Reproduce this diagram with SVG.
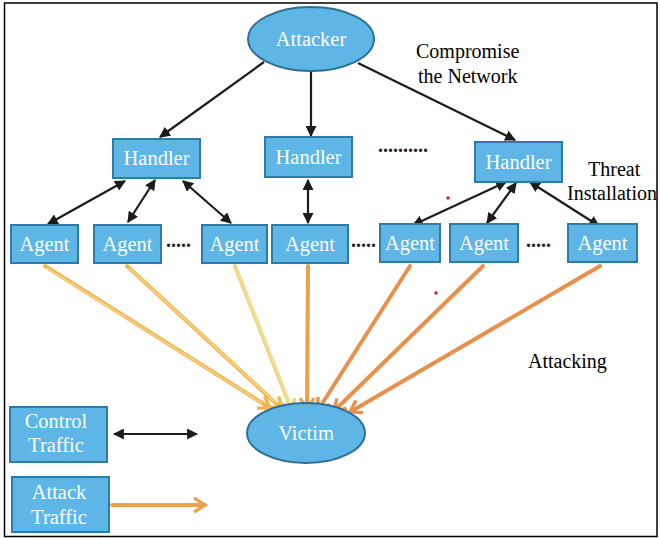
<svg xmlns="http://www.w3.org/2000/svg" width="660" height="539" viewBox="0 0 660 539">
<style>
.box{fill:#5DB6E6;stroke:#2F7BA6;stroke-width:2}
.ell{fill:#5DB6E6;stroke:#2F6F96;stroke-width:2}
.nt{font-family:"Liberation Serif","Times New Roman","DejaVu Serif",serif;font-size:20.5px;fill:#fff;text-anchor:middle}
.lab{font-family:"Liberation Serif","Times New Roman","DejaVu Serif",serif;font-size:20px;fill:#000}
.dots{font-family:"Liberation Serif","Times New Roman","DejaVu Serif",serif;font-size:20px;font-weight:bold;fill:#222}
.ctl{stroke:#1c1c1c;stroke-width:2.2;fill:none}
.atk{stroke-width:4;fill:none;stroke-linecap:round}
.hl{stroke-width:1.3;fill:none;stroke:#FBE3A8;opacity:0.8}
</style>
<defs>
<marker id="ah" viewBox="0 0 10 10" refX="9" refY="5" markerWidth="5" markerHeight="5" orient="auto-start-reverse" markerUnits="strokeWidth">
<path d="M0,0 L10,5 L0,10 z" fill="#1c1c1c"/>
</marker>
<marker id="oy" viewBox="0 0 10 10" refX="8" refY="5" markerWidth="4.2" markerHeight="4.2" orient="auto" markerUnits="strokeWidth">
<path d="M1.5,0.8 L8,5 L1.5,9.2" fill="none" stroke="#F1B550" stroke-width="2"/>
</marker>
<marker id="op" viewBox="0 0 10 10" refX="8" refY="5" markerWidth="4.2" markerHeight="4.2" orient="auto" markerUnits="strokeWidth">
<path d="M1.5,0.8 L8,5 L1.5,9.2" fill="none" stroke="#EBD47E" stroke-width="2"/>
</marker>
<marker id="oo" viewBox="0 0 10 10" refX="8" refY="5" markerWidth="4.2" markerHeight="4.2" orient="auto" markerUnits="strokeWidth">
<path d="M1.5,0.8 L8,5 L1.5,9.2" fill="none" stroke="#EBA04C" stroke-width="2"/>
</marker>
<marker id="or" viewBox="0 0 10 10" refX="8" refY="5" markerWidth="4.2" markerHeight="4.2" orient="auto" markerUnits="strokeWidth">
<path d="M1.5,0.8 L8,5 L1.5,9.2" fill="none" stroke="#E8904C" stroke-width="2"/>
</marker>
</defs>
<rect x="4.5" y="3" width="652.5" height="533.5" fill="#fff" stroke="#000" stroke-width="1.5"/>

<g id="connectors">
<line class="ctl" x1="264" y1="62" x2="160" y2="137" marker-end="url(#ah)"/>
<line class="ctl" x1="311" y1="72" x2="311" y2="136" marker-end="url(#ah)"/>
<line class="ctl" x1="358" y1="63" x2="515" y2="140" marker-end="url(#ah)"/>
<line class="ctl" x1="125" y1="181" x2="48" y2="224" marker-start="url(#ah)" marker-end="url(#ah)"/>
<line class="ctl" x1="155" y1="180" x2="128" y2="222" marker-start="url(#ah)" marker-end="url(#ah)"/>
<line class="ctl" x1="183" y1="181" x2="231" y2="223" marker-start="url(#ah)" marker-end="url(#ah)"/>
<line class="ctl" x1="308" y1="180" x2="308" y2="223" marker-start="url(#ah)" marker-end="url(#ah)"/>
<line class="ctl" x1="506" y1="182" x2="413" y2="225" marker-start="url(#ah)" marker-end="url(#ah)"/>
<line class="ctl" x1="516" y1="183" x2="487" y2="223" marker-start="url(#ah)" marker-end="url(#ah)"/>
<line class="ctl" x1="530" y1="182" x2="599" y2="226" marker-start="url(#ah)" marker-end="url(#ah)"/>

<line class="atk" x1="45" y1="266" x2="270" y2="408" stroke="#F1B550" marker-end="url(#oy)"/>
<line class="atk" x1="127" y1="266" x2="282" y2="409" stroke="#F1B550" marker-end="url(#oy)"/>
<line class="atk" x1="235" y1="266" x2="292" y2="411" stroke="#EBD47E" marker-end="url(#op)"/>
<line class="atk" x1="308" y1="266" x2="307" y2="409" stroke="#EBA04C" marker-end="url(#oo)"/>
<line class="atk" x1="410" y1="266" x2="318" y2="410" stroke="#E8904C" marker-end="url(#or)"/>
<line class="atk" x1="483" y1="266" x2="334" y2="411" stroke="#E8904C" marker-end="url(#or)"/>
<line class="atk" x1="600" y1="266" x2="350" y2="412" stroke="#E8904C" marker-end="url(#or)"/>
<line class="hl" x1="47" y1="268" x2="262" y2="403"/>
<line class="hl" x1="129" y1="268" x2="276" y2="403"/>
<line class="hl" x1="236" y1="268" x2="290" y2="404"/>

<line class="ctl" x1="114" y1="434" x2="197" y2="434" stroke-width="2.5" marker-start="url(#ah)" marker-end="url(#ah)"/>
<line class="atk" x1="112" y1="505" x2="205" y2="505" stroke="#EBA04C" marker-end="url(#oo)"/>
</g>

<g id="attacker">
<ellipse class="ell" cx="311" cy="39" rx="63" ry="32"/>
<text class="nt" x="311" y="46">Attacker</text>
</g>
<g id="handler1">
<rect class="box" x="113" y="139" width="87" height="39"/>
<text class="nt" x="156.5" y="165">Handler</text>
</g>
<g id="handler2">
<rect class="box" x="265" y="137" width="87" height="40"/>
<text class="nt" x="308.5" y="164">Handler</text>
</g>
<g id="handler3">
<rect class="box" x="475" y="142" width="87" height="40"/>
<text class="nt" x="518.5" y="169">Handler</text>
</g>
<text class="dots" x="378" y="152">..........</text>

<g id="agent1">
<rect class="box" x="11" y="225" width="67" height="38"/>
<text class="nt" x="44.5" y="251">Agent</text>
</g>
<g id="agent2">
<rect class="box" x="94" y="225" width="67" height="38"/>
<text class="nt" x="127.5" y="251">Agent</text>
</g>
<text class="dots" x="166" y="247">.....</text>
<g id="agent3">
<rect class="box" x="202" y="225" width="65" height="38"/>
<text class="nt" x="234.5" y="251">Agent</text>
</g>
<g id="agent4">
<rect class="box" x="272" y="225" width="76" height="38"/>
<text class="nt" x="310" y="251">Agent</text>
</g>
<text class="dots" x="351" y="247">.....</text>
<g id="agent5">
<rect class="box" x="380" y="224" width="60" height="38"/>
<text class="nt" x="410" y="250">Agent</text>
</g>
<g id="agent6">
<rect class="box" x="450" y="224" width="68" height="38"/>
<text class="nt" x="484" y="250">Agent</text>
</g>
<text class="dots" x="526" y="247">.....</text>
<g id="agent7">
<rect class="box" x="568" y="224" width="69" height="38"/>
<text class="nt" x="602.5" y="250">Agent</text>
</g>

<g id="victim">
<ellipse class="ell" cx="306" cy="433" rx="59" ry="30"/>
<text class="nt" x="306" y="440">Victim</text>
</g>

<g id="legend-control">
<rect class="box" x="10" y="407" width="97" height="55"/>
<text class="nt" x="56" y="428">Control</text>
<text class="nt" x="56" y="452">Traffic</text>
</g>
<g id="legend-attack">
<rect class="box" x="12" y="477" width="97" height="55"/>
<text class="nt" x="59" y="499">Attack</text>
<text class="nt" x="59" y="524">Traffic</text>
</g>

<text class="lab" x="416" y="58">Compromise</text>
<text class="lab" x="418" y="83">the Network</text>
<text class="lab" x="588" y="176">Threat</text>
<text class="lab" x="567" y="200">Installation</text>
<text class="lab" x="528" y="368">Attacking</text>

<circle cx="448" cy="198" r="1.8" fill="#d0202a"/>
<circle cx="436" cy="293" r="1.8" fill="#d0202a"/>
</svg>
